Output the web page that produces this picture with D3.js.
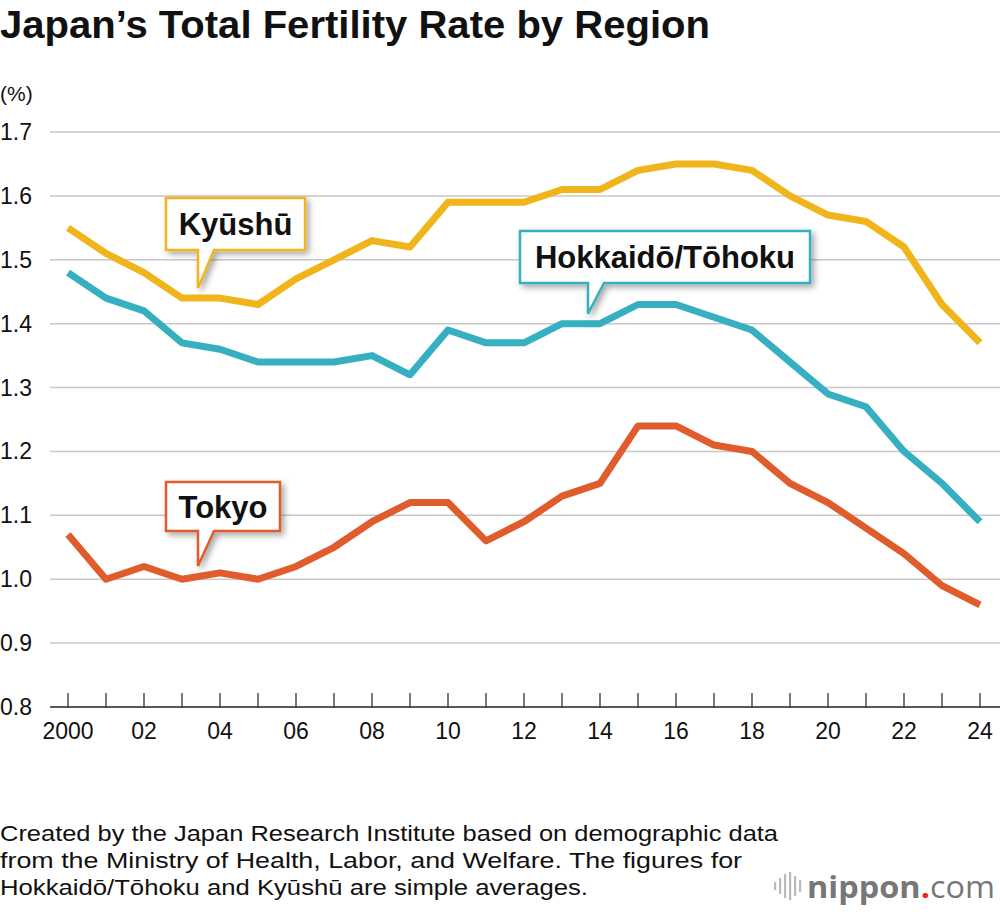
<!DOCTYPE html>
<html><head><meta charset="utf-8">
<script src="https://cdn.jsdelivr.net/npm/d3@7"></script>
<style>body{margin:0;background:#fff;}svg{font-family:"Liberation Sans",Arial,sans-serif;}</style>
</head><body>
<svg id="c" width="1000" height="912"></svg>
<script>
const years = d3.range(2000, 2025);
const kyushu = [1.55,1.51,1.48,1.44,1.44,1.43,1.47,1.50,1.53,1.52,1.59,1.59,1.59,1.61,1.61,1.64,1.65,1.65,1.64,1.60,1.57,1.56,1.52,1.43,1.37];
const hokkaido = [1.48,1.44,1.42,1.37,1.36,1.34,1.34,1.34,1.35,1.32,1.39,1.37,1.37,1.40,1.40,1.43,1.43,1.41,1.39,1.34,1.29,1.27,1.20,1.15,1.09];
const tokyo = [1.07,1.00,1.02,1.00,1.01,1.00,1.02,1.05,1.09,1.12,1.12,1.06,1.09,1.13,1.15,1.24,1.24,1.21,1.20,1.15,1.12,1.08,1.04,0.99,0.96];
const yTicks = [0.8,0.9,1.0,1.1,1.2,1.3,1.4,1.5,1.6,1.7];
const xLabelYears = [2000,2002,2004,2006,2008,2010,2012,2014,2016,2018,2020,2022,2024];
const seriesList = [
  {name:"Kyūshū", values:kyushu, color:"#f0b51a", label:{x0:166,y0:198,x1:305,y1:250,px:198,year:2003.5,v:1.44}},
  {name:"Hokkaidō/Tōhoku", values:hokkaido, color:"#36b0c0", label:{x0:520,y0:231,x1:810,y1:283,px:588,year:2013.6,v:1.40}},
  {name:"Tokyo", values:tokyo, color:"#e05c2c", label:{x0:166,y0:482,x1:280,y1:531,px:198,year:2003.5,v:1.005}}
];
const svg = d3.select("#c");
const x = d3.scaleLinear().domain([2000,2024]).range([68,980]);
const y = d3.scaleLinear().domain([0.8,1.7]).range([707,132]);

svg.append("text").attr("x",0).attr("y",38).attr("font-size",38).attr("font-weight","bold").attr("fill","#111")
  .attr("textLength",710).attr("lengthAdjust","spacingAndGlyphs").text("Japan’s Total Fertility Rate by Region");
svg.append("text").attr("x",0).attr("y",101).attr("font-size",21).attr("fill","#111").text("(%)");

const defs = svg.append("defs");
const f = defs.append("filter").attr("id","sh").attr("x","-20%").attr("y","-20%").attr("width","150%").attr("height","160%");
f.append("feDropShadow").attr("dx",3).attr("dy",3).attr("stdDeviation",3).attr("flood-color","#000").attr("flood-opacity",0.35);

svg.append("g").selectAll("line").data(yTicks.filter(d=>d>0.8)).join("line")
  .attr("x1",50).attr("x2",1000).attr("y1",d=>y(d)).attr("y2",d=>y(d)).attr("stroke","#c8c8c8").attr("stroke-width",1.5);
svg.append("g").selectAll("text").data(yTicks).join("text")
  .attr("x",0).attr("y",d=>y(d)+8).attr("font-size",23).attr("fill","#111").text(d=>d.toFixed(1));
svg.append("line").attr("x1",50).attr("x2",1000).attr("y1",707).attr("y2",707).attr("stroke","#222").attr("stroke-width",1.5);
svg.append("g").selectAll("line").data(years).join("line")
  .attr("x1",d=>x(d)).attr("x2",d=>x(d)).attr("y1",y(0.8)-14).attr("y2",y(0.8)).attr("stroke","#222").attr("stroke-width",1.2);
svg.append("g").selectAll("text").data(xLabelYears).join("text")
  .attr("x",d=>x(d)).attr("y",739).attr("text-anchor","middle").attr("font-size",23).attr("fill","#111")
  .text(d=>d===2000?"2000":String(d).slice(2));

const line = d3.line().x((d,i)=>x(years[i])).y(d=>y(d));
seriesList.forEach(s=>{
  svg.append("path").attr("d",line(s.values)).attr("fill","none").attr("stroke",s.color).attr("stroke-width",7).attr("stroke-linejoin","round");
});
seriesList.forEach(s=>{
  const L=s.label, tipY=y(L.v)-10;
  const p=`M${L.x0},${L.y0}H${L.x1}V${L.y1}H${L.px+16}L${L.px},${tipY}V${L.y1}H${L.x0}Z`;
  svg.append("path").attr("d",p).attr("fill","#fff").attr("stroke",s.color).attr("stroke-width",2.5).attr("filter","url(#sh)");
  svg.append("text").attr("x",(L.x0+L.x1)/2).attr("y",(L.y0+L.y1)/2+11).attr("text-anchor","middle")
    .attr("font-size",31).attr("font-weight","bold").attr("fill","#111").text(s.name);
});

const notes=[["Created by the Japan Research Institute based on demographic data",778],["from the Ministry of Health, Labor, and Welfare. The figures for",742],["Hokkaidō/Tōhoku and Kyūshū are simple averages.",588]];
svg.append("g").selectAll("text").data(notes).join("text").attr("x",0).attr("y",(d,i)=>841+i*27).attr("font-size",22).attr("fill","#111")
  .attr("textLength",d=>d[1]).attr("lengthAdjust","spacingAndGlyphs").text(d=>d[0]);

const lg=svg.append("g");
[[774,4],[779,8],[784,12],[789,14],[794,10],[799,6]].forEach(([lx,h])=>lg.append("rect").attr("x",lx).attr("y",886-h).attr("width",2.2).attr("height",h*2).attr("fill","#bbb"));
const t=lg.append("text").attr("x",807).attr("y",898).attr("font-size",31).attr("fill","#777").attr("font-family","Open Sans, sans-serif")
  .attr("textLength",188).attr("lengthAdjust","spacingAndGlyphs");
t.append("tspan").attr("font-weight","bold").text("nippon");
t.append("tspan").attr("fill","#e8261f").attr("font-weight","bold").text(".");
t.append("tspan").text("com");
</script>
</body></html>
